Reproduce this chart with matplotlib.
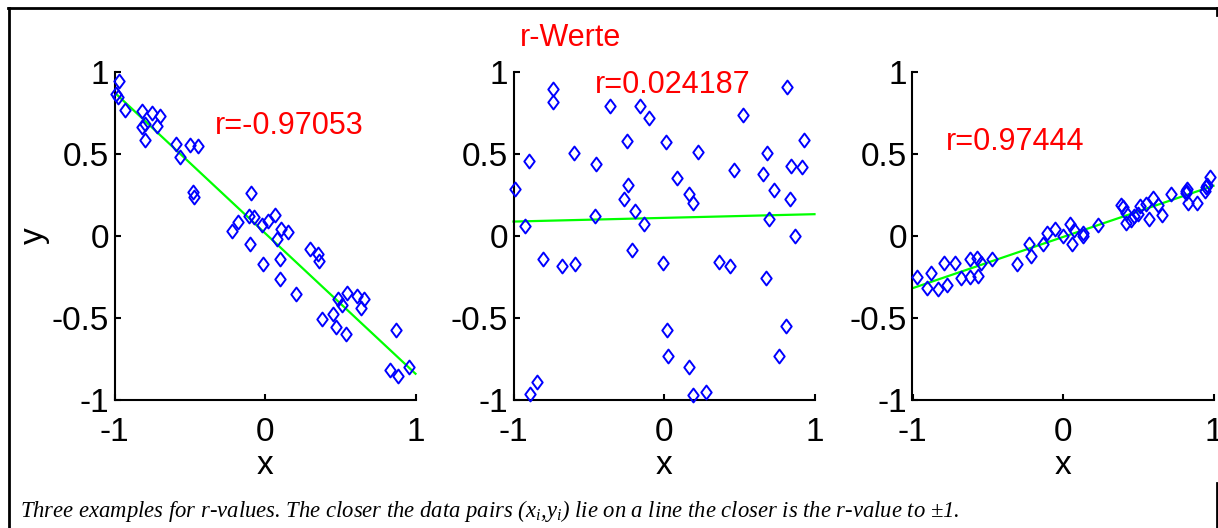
import numpy as np
import matplotlib
matplotlib.use("Agg")
import matplotlib.pyplot as plt
from matplotlib.lines import Line2D
from matplotlib.path import Path

plt.rcParams['font.family'] = ['Liberation Sans', 'DejaVu Sans']
plt.rcParams['axes.unicode_minus'] = False
plt.rcParams['mathtext.fontset'] = 'custom'
plt.rcParams['mathtext.it'] = 'Liberation Serif:italic'
plt.rcParams['mathtext.rm'] = 'Liberation Serif:italic'

# ---------------- data ----------------
x_neg = [-0.971, -0.993, -0.978, -0.932, -0.817, -0.751, -0.700, -0.795, -0.817, -0.717,
         -0.795, -0.589, -0.497, -0.448, -0.563, -0.479, -0.475, -0.093, -0.106, -0.073,
         -0.177, -0.221, -0.022, 0.018, 0.066, 0.106, 0.155, 0.077, -0.099, -0.011,
         0.099, 0.099, 0.205, 0.302, 0.349, 0.358, 0.486, 0.514, 0.545, 0.611,
         0.658, 0.636, 0.453, 0.382, 0.470, 0.536, 0.868, 0.828, 0.883, 0.960]
y_neg = [0.941, 0.864, 0.848, 0.768, 0.758, 0.746, 0.732, 0.681, 0.665, 0.671,
         0.583, 0.559, 0.553, 0.549, 0.482, 0.270, 0.234, 0.264, 0.122, 0.112,
         0.085, 0.030, 0.067, 0.091, 0.126, 0.041, 0.024, -0.020, -0.047, -0.173,
         -0.142, -0.264, -0.356, -0.081, -0.112, -0.152, -0.386, -0.423, -0.346, -0.366,
         -0.386, -0.437, -0.474, -0.508, -0.555, -0.596, -0.575, -0.819, -0.854, -0.799]

x_zero = [-0.989, -0.923, -0.894, -0.739, -0.739, -0.805, -0.679, -0.591, -0.597, -0.451,
          -0.458, -0.358, -0.243, -0.237, -0.265, -0.192, -0.133, -0.210, -0.159, -0.097,
          0.011, 0.088, 0.168, 0.195, 0.226, -0.004, 0.022, 0.029, 0.168, 0.195,
          0.279, 0.365, 0.438, 0.465, 0.527, 0.659, 0.686, 0.730, 0.699, 0.681,
          0.819, 0.847, 0.918, 0.929, 0.836, 0.869, 0.810, 0.765, -0.889, -0.845]
y_zero = [0.285, 0.061, 0.453, 0.894, 0.813, -0.142, -0.183, -0.173, 0.504, 0.437,
          0.122, 0.793, 0.579, 0.311, 0.224, 0.152, 0.071, -0.087, 0.789, 0.717,
          0.573, 0.350, 0.254, 0.199, 0.512, -0.163, -0.573, -0.732, -0.799, -0.972,
          -0.951, -0.159, -0.183, 0.400, 0.736, 0.376, 0.504, 0.280, 0.102, -0.254,
          0.909, 0.427, 0.421, 0.585, 0.224, 0.000, -0.549, -0.732, -0.961, -0.888]

x_pos = [-0.968, -0.906, -0.875, -0.831, -0.769, -0.791, -0.718, -0.680, -0.618, -0.618,
         -0.569, -0.565, -0.547, -0.470, -0.303, -0.226, -0.210, -0.131, -0.109, -0.055,
         0.000, 0.047, 0.058, 0.073, 0.133, 0.135, 0.235, 0.388, 0.421, 0.417,
         0.450, 0.498, 0.512, 0.554, 0.571, 0.598, 0.631, 0.656, 0.715, 0.815,
         0.815, 0.831, 0.888, 0.941, 0.948, 0.959, 0.977, 0.822, 0.472, 0.401]
y_pos = [-0.250, -0.315, -0.228, -0.325, -0.301, -0.167, -0.167, -0.254, -0.248, -0.142,
         -0.132, -0.244, -0.163, -0.142, -0.169, -0.051, -0.122, -0.047, 0.020, 0.041,
         0.000, 0.071, -0.051, 0.035, 0.020, 0.000, 0.067, 0.189, 0.142, 0.081,
         0.096, 0.132, 0.183, 0.197, 0.102, 0.228, 0.189, 0.126, 0.254, 0.274,
         0.264, 0.199, 0.203, 0.274, 0.295, 0.311, 0.356, 0.285, 0.122, 0.173]

# regression lines (end points)
line_x_neg = [-0.99, 1.0]
line_y_neg = [0.865, -0.84]
line_x_zero = [-1.0, 1.0]
line_y_zero = [0.087, 0.132]
line_x_pos = [-1.0, 1.0]
line_y_pos = [-0.319, 0.305]

r_labels = ["r=-0.97053", "r=0.024187", "r=0.97444"]
r_label_pos = [(-0.33, 0.622), (-0.457, 0.87), (-0.78, 0.52)]
xticks = [-1, 0, 1]
yticks = [-1, -0.5, 0, 0.5, 1]
ytick_labels = ["-1", "-0.5", "0", "0.5", "1"]
xtick_labels = ["-1", "0", "1"]
title_text = "r-Werte"
caption = ("Three examples for r-values. The closer the data pairs "
           "(x$_i$,y$_i$) lie on a line the closer is the r-value to \u00b11.")

# ---------------- figure ----------------
W, H = 1218, 528
fig = plt.figure(figsize=(W / 100, H / 100), dpi=100)
fig.patch.set_facecolor('white')

def frac(px_left, px_top, px_w, px_h):
    return [px_left / W, (H - px_top - px_h) / H, px_w / W, px_h / H]

diamond = Path([(0, 1), (0.75, 0), (0, -1), (-0.75, 0), (0, 1)],
               [Path.MOVETO, Path.LINETO, Path.LINETO, Path.LINETO, Path.CLOSEPOLY])

panels = [
    (114.5, x_neg, y_neg, line_x_neg, line_y_neg),
    (513.5, x_zero, y_zero, line_x_zero, line_y_zero),
    (912.5, x_pos, y_pos, line_x_pos, line_y_pos),
]
axes = []
for i, (left, xs, ys, lx, ly) in enumerate(panels):
    ax = fig.add_axes(frac(left, 71.7, 301, 328.3))
    axes.append(ax)
    ax.plot(lx, ly, color=(0, 1, 0), lw=1.6, zorder=2, clip_on=False)
    ax.plot(xs, ys, linestyle='none', marker=diamond, markersize=10,
            markerfacecolor='none', markeredgecolor=(0, 0, 1),
            markeredgewidth=1.4, zorder=3, clip_on=False)
    ax.set_xlim(-1, 1)
    ax.set_ylim(-1, 1)
    for s in ['top', 'right']:
        ax.spines[s].set_visible(False)
    for s in ['left', 'bottom']:
        ax.spines[s].set_linewidth(1.5)
    ax.set_xticks(xticks)
    ax.set_xticklabels(xtick_labels)
    ax.set_yticks(yticks)
    ax.set_yticklabels(ytick_labels)
    ax.tick_params(axis='both', direction='in', length=4, width=1.5,
                   labelsize=24, colors='black')
    ax.tick_params(axis='x', pad=12)
    ax.tick_params(axis='y', pad=4)
    ax.set_facecolor('none')
    ax.set_xlabel('x', fontsize=24)
    ax.xaxis.label.set_va('baseline')
    ax.xaxis.set_label_coords(0.5, -0.225)
    tx, ty = r_label_pos[i]
    ax.text(tx, ty, r_labels[i], color=(1, 0, 0), fontsize=22,
            ha='left', va='baseline')

axes[0].set_ylabel('y', fontsize=24)
axes[0].yaxis.label.set_va('center')
axes[0].yaxis.set_label_coords(-0.265, 0.5)

fig.text(520 / W, (H - 46) / H, title_text, color=(1, 0, 0), fontsize=22,
         ha='left', va='baseline')

fig.text(20 / W, (H - 517) / H, caption, fontsize=16.3,
         family='Liberation Serif', style='italic', ha='left', va='baseline')

# frame lines
def fline(x0, y0, x1, y1):
    fig.add_artist(Line2D([x0 / W, x1 / W], [1 - y0 / H, 1 - y1 / H],
                          color='black', lw=2.0, transform=fig.transFigure))

fline(8, 8, 1217, 8)
fline(8.5, 8, 8.5, 528)
fline(1216.5, 8, 1216.5, 15)
fline(1216.5, 483, 1216.5, 528)

fig.savefig('out.png', dpi=100)
